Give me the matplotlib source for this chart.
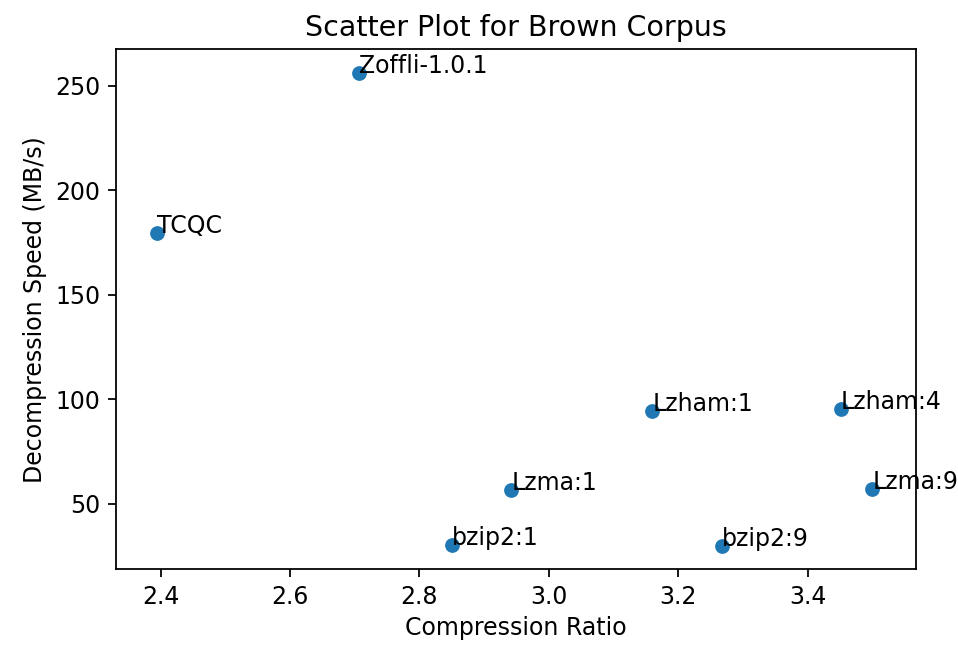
import matplotlib
matplotlib.use('Agg')
import matplotlib.pyplot as plt

# values
names = ["TCQC", "Zoffli-1.0.1", "bzip2:1", "Lzma:1", "Lzham:1",
         "bzip2:9", "Lzham:4", "Lzma:9"]
ratio = [2.395, 2.707, 2.850, 2.942, 3.160, 3.267, 3.451, 3.500]
speed = [179.4, 256.0, 30.3, 56.4, 94.4, 29.8, 95.2, 57.2]

# the reference is a default 6x4 figure blown up about 2.22x
k = 2.22 * 0.72
plt.rcParams['font.family'] = 'DejaVu Sans'
plt.rcParams['font.size'] = 17
plt.rcParams['axes.linewidth'] = 0.8 * k
for ax_name in ("xtick", "ytick"):
    plt.rcParams[f'{ax_name}.major.size'] = 3.5 * k
    plt.rcParams[f'{ax_name}.major.width'] = 0.8 * k
    plt.rcParams[f'{ax_name}.major.pad'] = 3.5 * k

fig = plt.figure(figsize=(9.58, 6.45), dpi=100)
ax = fig.add_axes([0.121, 0.1178, 0.835, 0.8058])

ax.scatter(ratio, speed, s=36 * k ** 2, color="#1f77b4")
for name, x, y in zip(names, ratio, speed):
    ax.annotate(name, (x, y))

ax.set_xlim(2.331, 3.567)
ax.set_ylim(18.8, 267.5)
ax.set_xticks([2.4, 2.6, 2.8, 3.0, 3.2, 3.4])
ax.set_yticks([50, 100, 150, 200, 250])

ax.set_title("Scatter Plot for Brown Corpus", fontsize=20.5, pad=6 * k)
ax.set_xlabel("Compression Ratio", labelpad=3.5 * k)
ax.set_ylabel("Decompression Speed (MB/s)", labelpad=3.5 * k)

fig.savefig("out.png", dpi=100)
plt.close(fig)
